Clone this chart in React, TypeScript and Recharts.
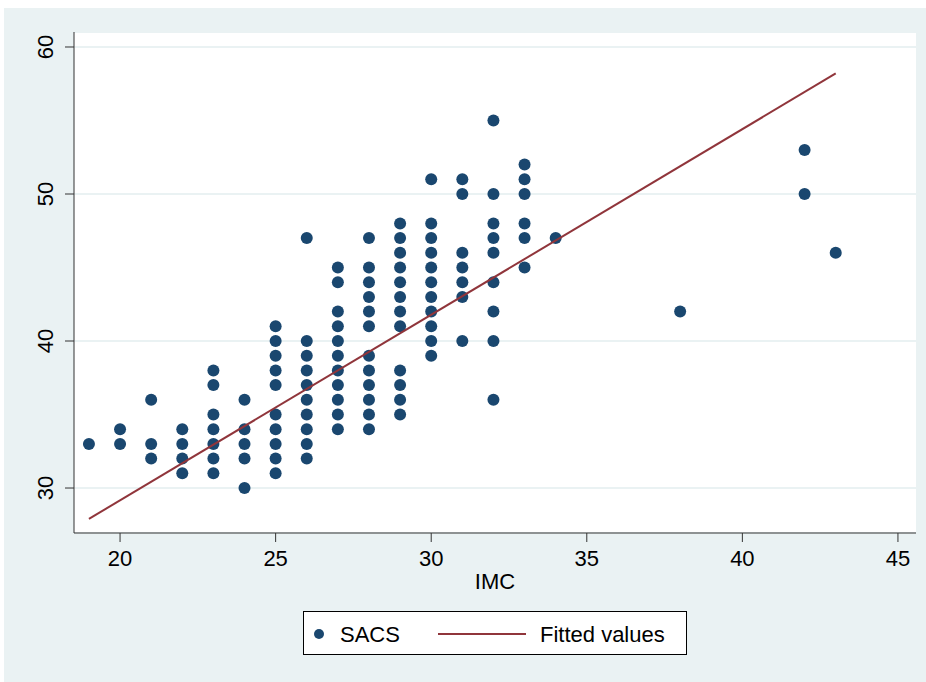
import React from 'react';
import { ScatterChart, Scatter, XAxis, YAxis, CartesianGrid } from 'recharts';

// IMC values (x) and the SACS observations stacked at each IMC
const imcGroups = [19, 20, 21, 22, 23, 24, 25, 26, 27, 28, 29, 30, 31, 32, 33, 34, 38, 42, 43];
const sacsGroups = [
  [33],
  [34, 33],
  [36, 33, 32],
  [34, 33, 32, 31],
  [38, 37, 35, 34, 33, 32, 31],
  [36, 34, 33, 32, 30],
  [41, 40, 39, 38, 37, 35, 34, 33, 32, 31],
  [47, 40, 39, 38, 37, 36, 35, 34, 33, 32],
  [45, 44, 42, 41, 40, 39, 38, 37, 36, 35, 34],
  [47, 45, 44, 43, 42, 41, 39, 38, 37, 36, 35, 34],
  [48, 47, 46, 45, 44, 43, 42, 41, 38, 37, 36, 35],
  [51, 48, 47, 46, 45, 44, 43, 42, 41, 40, 39],
  [51, 50, 46, 45, 44, 43, 40],
  [55, 50, 48, 47, 46, 44, 42, 40, 36],
  [52, 51, 50, 48, 47, 45],
  [47],
  [42],
  [53, 50],
  [46],
];

// fitted line end points
const fitImc = [19, 43];
const fitValues = [27.9, 58.2];

const xTicks = [20, 25, 30, 35, 40, 45];
const yTicks = [30, 40, 50, 60];

const NAVY = '#1a476f';
const MAROON = '#90353b';
const BG = '#eaf2f3';
const FONT = '"Liberation Sans", Arial, sans-serif';

const points = imcGroups.flatMap((imc, i) => sacsGroups[i].map((s) => ({ imc, sacs: s })));
const fitted = fitImc.map((imc, i) => ({ imc, sacs: fitValues[i] }));

const Dot = (props: any) => <circle cx={props.cx} cy={props.cy} r={6} fill={NAVY} />;
const NoDot = () => <g />;

const YTick = (props: any) => {
  const { y, payload } = props;
  return (
    <text
      x={46}
      y={y}
      transform={`rotate(-90, 46, ${y})`}
      textAnchor="middle"
      dominantBaseline="central"
      fontSize={22}
      fontFamily={FONT}
      fill="#000"
    >
      {payload.value}
    </text>
  );
};

export default function App() {
  return (
    <div style={{ position: 'absolute', left: 0, top: 0, width: 926, height: 682, background: '#fff' }}>
      <div style={{ position: 'absolute', left: 4, top: 8, right: 0, bottom: 0, background: BG }} />
      <div style={{ position: 'absolute', left: 74, top: 32, width: 842, height: 501, background: '#fff' }} />
      <div style={{ position: 'absolute', left: 0, top: 0 }}>
        <ScatterChart width={926} height={682} margin={{ top: 32, right: 10, bottom: 0, left: 0 }}>
          <CartesianGrid vertical={false} stroke={BG} strokeWidth={2} />
          <XAxis
            type="number"
            dataKey="imc"
            domain={[18.52, 45.58]}
            ticks={xTicks}
            allowDataOverflow
            height={149}
            stroke="#333"
            tickSize={9}
            tickMargin={8}
            tick={{ fontSize: 22, fontFamily: FONT, fill: '#000' }}
            label={{ value: 'IMC', position: 'insideTop', offset: 40, fontSize: 22, fontFamily: FONT, fill: '#000' }}
          />
          <YAxis
            type="number"
            dataKey="sacs"
            domain={[26.94, 61.02]}
            ticks={yTicks}
            allowDataOverflow
            width={74}
            stroke="#333"
            tickSize={9}
            tick={<YTick />}
          />
          <Scatter data={points} shape={<Dot />} isAnimationActive={false} />
          <Scatter
            data={fitted}
            line={{ stroke: MAROON, strokeWidth: 2 }}
            shape={<NoDot />}
            isAnimationActive={false}
          />
        </ScatterChart>
      </div>
      <div
        style={{
          position: 'absolute',
          left: 303,
          top: 611,
          width: 382,
          height: 42,
          background: '#fff',
          border: '1px solid #000',
          fontFamily: FONT,
          fontSize: 22,
          color: '#000',
        }}
      >
        <svg width={382} height={42} style={{ position: 'absolute', left: 0, top: 0 }}>
          <circle cx={15} cy={22} r={5} fill={NAVY} />
          <line x1={134} x2={222} y1={22} y2={22} stroke={MAROON} strokeWidth={2} />
          <text x={36} y={30} fontSize={22} fontFamily={FONT} fill="#000">SACS</text>
          <text x={236} y={30} fontSize={22} fontFamily={FONT} fill="#000">Fitted values</text>
        </svg>
      </div>
    </div>
  );
}
